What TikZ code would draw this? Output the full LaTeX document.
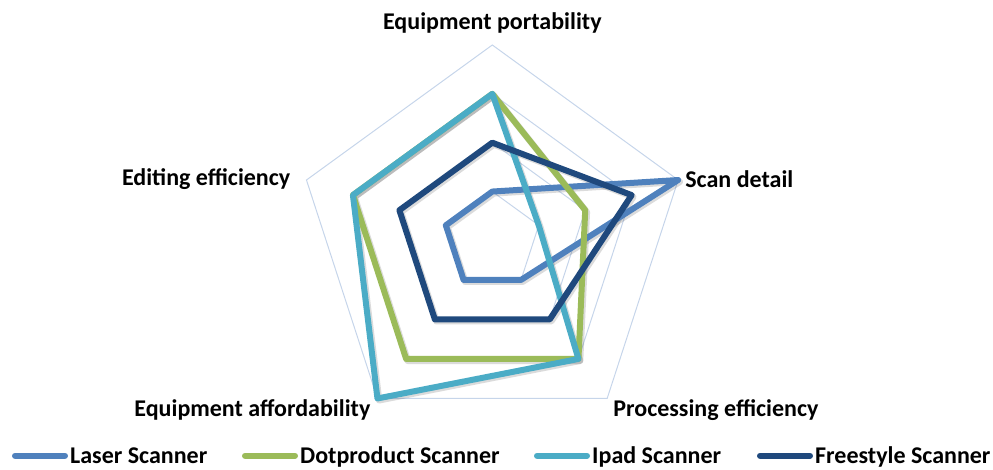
\documentclass[tikz,border=0pt]{standalone}
\usepackage{fontspec}
\setmainfont{Carlito}
\usetikzlibrary{positioning}

\definecolor{laser}{HTML}{4F81BD}
\definecolor{dotprod}{HTML}{9BBB59}
\definecolor{ipad}{HTML}{4BACC6}
\definecolor{freestyle}{HTML}{1F497D}
\definecolor{gridblue}{HTML}{C6D5EA}

% one step of the radial scale
\newcommand\radunit{48.85}
% closed outline through the five axes for given scores
\newcommand\radarpath[5]{(90:#1*\radunit) -- (18:#2*\radunit) -- (-54:#3*\radunit) -- (-126:#4*\radunit) -- (162:#5*\radunit) -- cycle}

\begin{document}
\begin{tikzpicture}[x=1pt, y=1pt,
    gridline/.style={draw=gridblue, line width=1pt},
    series/.style={line width=6pt, line join=round},
    shadowline/.style={line width=6.5pt, line join=round, black, opacity=0.14, shift={(1.6,-1.8)}},
    axislabel/.style={font=\bfseries\fontsize{24}{28}\selectfont, inner sep=0pt},
    keytext/.style={font=\bfseries\fontsize{24}{28}\selectfont, inner sep=0pt, anchor=base west},
    keyline/.style={line width=6pt, line cap=round}]
    \useasboundingbox (0,0) rectangle (993,470);

    \begin{scope}[shift={(492.3,229.6)}]
        % rings of the scale
        \foreach \l in {1,...,4}
            \draw[gridline] \radarpath{\l}{\l}{\l}{\l}{\l};

        % ends of the five axes
        \foreach \a/\n in {90/port, 18/scan, -54/proc, -126/afford, 162/edit}
            \coordinate (\n) at (\a:4*\radunit);

        % soft shadows first
        \draw[shadowline] \radarpath{1}{4}{1}{1}{1};
        \draw[shadowline] \radarpath{3}{2}{3}{3}{3};
        \draw[shadowline] \radarpath{3}{1}{3}{4}{3};
        \draw[shadowline] \radarpath{2}{3}{2}{2}{2};

        \draw[series, laser] \radarpath{1}{4}{1}{1}{1};
        \draw[series, dotprod] \radarpath{3}{2}{3}{3}{3};
        \draw[series, ipad] \radarpath{3}{1}{3}{4}{3};
        \draw[series, freestyle] \radarpath{2}{3}{2}{2}{2};
    \end{scope}

    \node[axislabel, above=12pt of port] (portlabel) {Equipment portability};
    \node[axislabel, right=7pt of scan, yshift=1pt] (scanlabel) {Scan detail};
    \node[axislabel, below right=1pt and 6pt of proc] (proclabel) {Processing efficiency};
    \node[axislabel, below left=1pt and 7pt of afford] (affordlabel) {Equipment affordability};
    \node[axislabel, left=16pt of edit, yshift=1pt] (editlabel) {Editing efficiency};

    % legend
    \foreach \c/\x/\t in {laser/70/Laser Scanner, dotprod/300/Dotproduct Scanner,
                          ipad/592/Ipad Scanner, freestyle/815/Freestyle Scanner} {
        \node[keytext] (key-\c) at (\x,6) {\t};
        \draw[keyline, \c] ([xshift=-5pt, yshift=8.4pt]key-\c.base west) -- ++(-50,0);
    }
\end{tikzpicture}
\end{document}
